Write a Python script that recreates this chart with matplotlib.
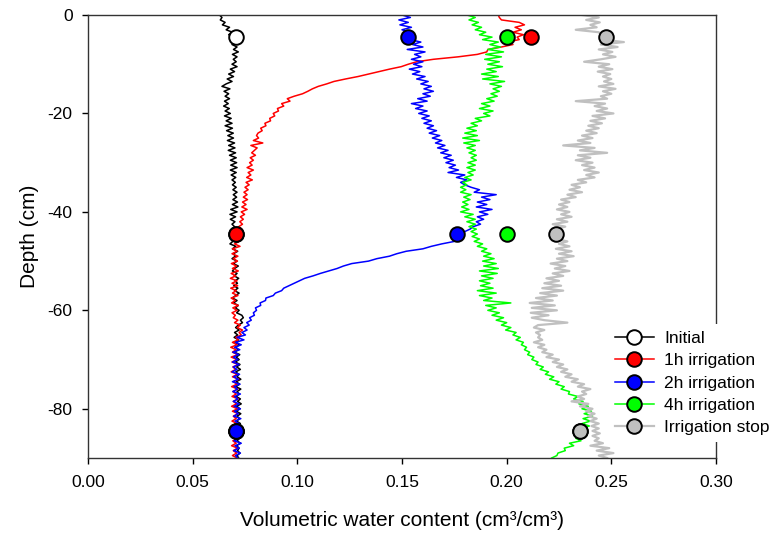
import numpy as np
import matplotlib
matplotlib.use("Agg")
import matplotlib.pyplot as plt
from matplotlib.lines import Line2D

plt.rcParams['font.family'] = ['Liberation Sans', 'DejaVu Sans']
plt.rcParams['axes.unicode_minus'] = False

# Probe readings every 0.5 cm from the surface down to 90 cm
depth = -np.arange(0, 90.5, 0.5)

# Volumetric water content profiles, in units of 1e-4 cm3/cm3
initial = [
    628, 640, 632, 655, 642, 676, 660, 690, 672, 698,
    682, 705, 688, 712, 695, 718, 690, 712, 694, 708,
    688, 712, 680, 700, 672, 695, 665, 688, 660, 640,
    678, 650, 672, 655, 676, 652, 670, 648, 675, 655,
    680, 652, 684, 660, 688, 655, 690, 662, 694, 668,
    695, 666, 700, 672, 702, 670, 705, 676, 708, 680,
    710, 682, 712, 680, 708, 684, 706, 688, 704, 690,
    708, 692, 712, 694, 710, 692, 714, 690, 716, 682,
    712, 678, 705, 680, 702, 688, 700, 690, 705, 695,
    688, 712, 692, 678, 706, 690, 715, 695, 704, 688,
    712, 694, 718, 700, 690, 712, 698, 720, 702, 714,
    696, 716, 700, 722, 705, 690, 712, 695, 718, 704,
    722, 710, 735, 742, 728, 738, 718, 705, 722, 700,
    715, 698, 720, 702, 724, 706, 718, 700, 725, 708,
    722, 704, 726, 710, 728, 706, 720, 712, 730, 708,
    724, 706, 730, 712, 722, 708, 728, 714, 732, 710,
    726, 708, 730, 712, 724, 710, 728, 714, 722, 712,
    726, 708, 724, 712, 728, 710, 722, 714, 726, 712, 720,
]

irr_1h = [
    1960, 1965, 1975, 2060, 2085, 2040, 2070, 2030, 2080, 2050,
    2060, 2000, 2030, 1975, 1910, 1905, 1860, 1768, 1650, 1570,
    1530, 1496, 1440, 1390, 1340, 1290, 1230, 1175, 1140, 1100,
    1072, 1050, 1025, 985, 952, 965, 925, 935, 905, 910,
    885, 892, 868, 872, 845, 850, 825, 832, 812, 805,
    815, 790, 835, 778, 808, 795, 782, 800, 775, 790,
    772, 784, 760, 790, 765, 778, 758, 785, 755, 770,
    750, 765, 745, 760, 742, 762, 738, 755, 735, 760,
    732, 748, 728, 742, 725, 738, 720, 735, 715, 728,
    718, 695, 722, 700, 726, 690, 712, 688, 716, 694,
    714, 685, 710, 690, 718, 684, 706, 680, 712, 688,
    715, 682, 708, 690, 716, 684, 704, 686, 718, 692,
    712, 688, 704, 694, 716, 700, 728, 712, 738, 722,
    732, 706, 718, 690, 712, 682, 708, 690, 716, 684,
    712, 688, 718, 692, 706, 684, 714, 690, 720, 694,
    712, 686, 716, 692, 708, 688, 718, 694, 710, 686,
    714, 690, 718, 694, 708, 688, 712, 692, 716, 696,
    710, 688, 716, 692, 708, 686, 714, 694, 710, 690, 712,
]

irr_2h = [
    1500, 1540, 1485, 1530, 1490, 1545, 1500, 1535, 1520, 1560,
    1540, 1590, 1550, 1600, 1525, 1610, 1560, 1590, 1545, 1600,
    1555, 1595, 1535, 1585, 1550, 1610, 1570, 1625, 1590, 1640,
    1605, 1650, 1600, 1635, 1575, 1620, 1545, 1600, 1565, 1620,
    1580, 1630, 1595, 1640, 1605, 1650, 1620, 1665, 1630, 1680,
    1645, 1690, 1660, 1705, 1670, 1720, 1685, 1735, 1700, 1745,
    1710, 1755, 1725, 1770, 1720, 1800, 1760, 1810, 1780, 1800,
    1830, 1870, 1845, 1950, 1880, 1920, 1860, 1905, 1855, 1930,
    1870, 1910, 1860, 1890, 1855, 1875, 1840, 1825, 1800, 1780,
    1790, 1765, 1750, 1690, 1640, 1600, 1520, 1475, 1440, 1380,
    1340, 1260, 1220, 1190, 1150, 1110, 1075, 1035, 1010, 985,
    960, 935, 925, 895, 885, 850, 848, 822, 825, 800,
    805, 790, 795, 772, 780, 758, 770, 745, 760, 735,
    752, 712, 745, 705, 732, 700, 725, 692, 720, 695,
    716, 690, 722, 694, 712, 688, 724, 696, 718, 690,
    726, 698, 714, 692, 728, 700, 716, 694, 722, 698,
    728, 700, 718, 696, 730, 702, 720, 698, 726, 704,
    730, 700, 724, 698, 732, 702, 722, 696, 728, 704, 716,
]

irr_4h = [
    1810, 1850, 1820, 1865, 1835, 1880, 1850, 1900, 1870, 1930,
    1885, 1960, 1920, 1970, 1910, 1985, 1900, 1975, 1895, 1965,
    1910, 1980, 1905, 1950, 1880, 1960, 1885, 1990, 1920, 1975,
    1935, 1965, 1925, 1955, 1905, 1940, 1880, 1920, 1870, 1935,
    1890, 1920, 1850, 1880, 1830, 1860, 1810, 1855, 1800, 1860,
    1790, 1870, 1795, 1850, 1810, 1850, 1820, 1855, 1830, 1855,
    1815, 1850, 1810, 1850, 1815, 1840, 1800, 1830, 1790, 1810,
    1780, 1805, 1780, 1830, 1795, 1825, 1790, 1815, 1785, 1820,
    1780, 1840, 1800, 1850, 1810, 1850, 1820, 1855, 1830, 1860,
    1835, 1870, 1845, 1885, 1860, 1905, 1880, 1925, 1890, 1940,
    1885, 1950, 1890, 1960, 1870, 1955, 1880, 1935, 1870, 1920,
    1875, 1935, 1860, 1950, 1870, 1930, 1890, 2020, 1900, 1950,
    1910, 1965, 1930, 1985, 1950, 2000, 1975, 2020, 1995, 2045,
    2030, 2065, 2045, 2080, 2070, 2095, 2085, 2110, 2100, 2130,
    2120, 2150, 2140, 2175, 2160, 2200, 2185, 2225, 2205, 2250,
    2235, 2275, 2260, 2300, 2295, 2340, 2320, 2365, 2345, 2390,
    2360, 2405, 2370, 2410, 2365, 2400, 2360, 2395, 2350, 2385,
    2345, 2375, 2330, 2355, 2300, 2320, 2275, 2280, 2245, 2240, 2215,
]

irr_stop = [
    2360, 2440, 2380, 2445, 2400, 2430, 2330, 2440, 2450, 2500,
    2455, 2560, 2450, 2530, 2440, 2505, 2460, 2520, 2450, 2370,
    2490, 2440, 2505, 2435, 2495, 2460, 2500, 2465, 2510, 2440,
    2520, 2460, 2500, 2450, 2480, 2330, 2470, 2420, 2480, 2430,
    2510, 2410, 2470, 2400, 2455, 2390, 2440, 2380, 2430, 2360,
    2410, 2340, 2400, 2270, 2420, 2350, 2480, 2340, 2400, 2330,
    2410, 2360, 2420, 2370, 2440, 2380, 2420, 2340, 2380, 2310,
    2350, 2300, 2360, 2290, 2330, 2260, 2300, 2250, 2290, 2240,
    2300, 2260, 2310, 2240, 2290, 2220, 2280, 2230, 2270, 2240,
    2265, 2235, 2290, 2250, 2300, 2235, 2310, 2250, 2320, 2240,
    2290, 2210, 2280, 2230, 2300, 2220, 2270, 2190, 2250, 2180,
    2260, 2170, 2270, 2160, 2240, 2140, 2220, 2110, 2230, 2120,
    2240, 2115, 2200, 2120, 2180, 2290, 2150, 2130, 2180, 2140,
    2160, 2150, 2170, 2130, 2180, 2150, 2190, 2170, 2220, 2190,
    2250, 2220, 2270, 2240, 2290, 2260, 2310, 2280, 2340, 2310,
    2370, 2340, 2400, 2360, 2380, 2340, 2370, 2310, 2390, 2350,
    2410, 2380, 2420, 2390, 2430, 2400, 2440, 2405, 2440, 2410,
    2445, 2410, 2440, 2420, 2460, 2400, 2490, 2430, 2510, 2440, 2480,
]

# Point (TDR) measurements at three depths
point_depth = [-4.5, -44.5, -84.5]
pt_initial = [0.0707, 0.0707, 0.0707]
pt_1h = [0.2115, 0.0707, 0.0707]
pt_2h = [0.1531, 0.1764, 0.0707]
pt_4h = [0.2000, 0.2000, 0.2350]
pt_stop = [0.2474, 0.2238, 0.2351]

labels = ["Initial", "1h irrigation", "2h irrigation", "4h irrigation", "Irrigation stop"]
profiles = [initial, irr_1h, irr_2h, irr_4h, irr_stop]
points = [pt_initial, pt_1h, pt_2h, pt_4h, pt_stop]
line_colors = ["#000000", "#ff0000", "#0000ff", "#00ff00", "#c0c0c0"]
face_colors = ["#ffffff", "#ff0000", "#0000ff", "#00ff00", "#c0c0c0"]
line_widths = [1.1, 1.1, 1.1, 1.1, 1.6]

fig = plt.figure(figsize=(7.7, 5.33), dpi=100)
ax = fig.add_axes([88 / 770, 1 - 458 / 533, (716 - 88) / 770, (458 - 15) / 533])

for prof, col, lw in zip(profiles, line_colors, line_widths):
    ax.plot(np.asarray(prof) * 1e-4, depth, color=col, lw=lw, zorder=2)

for pts, fc in zip(points, face_colors):
    ax.plot(pts, point_depth, linestyle="none", marker="o", markersize=10.5,
            markerfacecolor=fc, markeredgecolor="black", markeredgewidth=1.4,
            zorder=4, clip_on=False)

ax.set_xlim(0, 0.30)
ax.set_ylim(-90, 0)
ax.set_xticks([0.00, 0.05, 0.10, 0.15, 0.20, 0.25, 0.30])
ax.set_xticklabels(["0.00", "0.05", "0.10", "0.15", "0.20", "0.25", "0.30"])
ax.set_yticks([0, -20, -40, -60, -80])
ax.tick_params(axis="both", direction="out", length=4.5, width=1, labelsize=12.5,
               top=False, right=False)
ax.tick_params(axis="x", pad=8)
ax.tick_params(axis="y", pad=6.5)
for sp in ax.spines.values():
    sp.set_linewidth(1.0)
    sp.set_color("#333333")

ax.set_xlabel("Volumetric water content (cm³/cm³)", fontsize=15, labelpad=15)
ax.set_ylabel("Depth (cm)", fontsize=15, labelpad=6)

handles = [Line2D([0], [0], color=lc, lw=lw, marker="o", markersize=10.5,
                  markerfacecolor=fc, markeredgecolor="black", markeredgewidth=1.4)
           for lc, fc, lw in zip(line_colors, face_colors, line_widths)]
leg = fig.legend(handles, labels, loc="upper left", bbox_to_anchor=(0.7896, 0.392),
                 fontsize=12.5, frameon=True, facecolor="white", edgecolor="none",
                 framealpha=1.0, fancybox=False, borderpad=0.4, borderaxespad=0,
                 handlelength=2.25, handletextpad=0.58, labelspacing=0.41)
leg.set_zorder(10)

fig.savefig("out.png", dpi=100)
